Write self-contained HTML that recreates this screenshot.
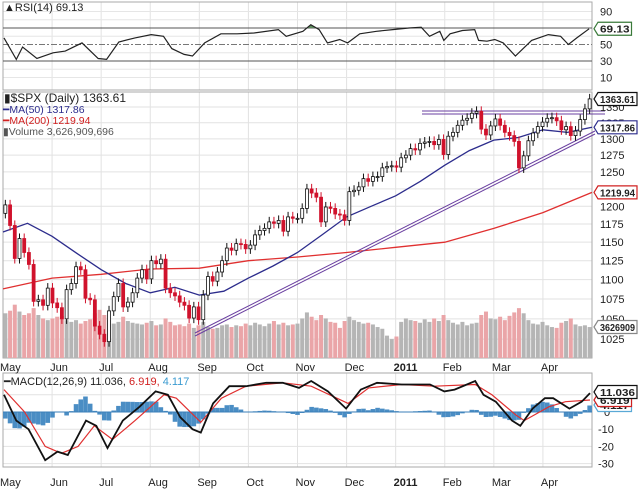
<!DOCTYPE html>
<html><head><meta charset="utf-8">
<style>
html,body{margin:0;padding:0;background:#fff;}
svg{display:block;font-family:"Liberation Sans",sans-serif;}
</style></head>
<body>
<svg id="c" width="640" height="490" viewBox="0 0 640 490">
<rect x="0" y="0" width="640" height="490" fill="#fff"/>
<g id="grid"></g>
<g id="rsi"></g>
<g id="main"></g>
<g id="macd"></g>
<g id="labels"></g>
</svg>
<script>
// ---- data ----
const monthLabels = ["May","Jun","Jul","Aug","Sep","Oct","Nov","Dec","2011","Feb","Mar","Apr"];
const closes = [
1202,1173,1128,1155,1136,1120,1072,1074,1067,1089,
1070,1064,1050,1087,1095,1117,1113,1076,1074,1041,1031,
1022,1060,1078,1095,1065,1071,1083,1102,1113,1101,
1125,1121,1127,1089,1083,1079,1071,1067,1051,1065,1049,
1080,1104,1098,1110,1125,1142,1139,1148,1147,1141,
1146,1160,1166,1169,1178,1176,1180,1165,1185,1183,1183,
1197,1225,1219,1213,1178,1199,1197,1189,1188,1180,
1221,1223,1228,1240,1236,1243,1243,1256,1258,1259,1257,
1271,1275,1285,1283,1293,1295,1296,1291,1299,1276,
1304,1310,1321,1329,1332,1340,1343,1315,1306,1320,
1331,1321,1310,1305,1296,1256,1274,1297,1309,1319,1326,
1332,1333,1328,1314,1319,1305,1312,1330,1347,1363];
const volumes = [
5.2,5.5,6.2,5.4,5.0,5.2,5.8,5.0,4.6,4.4,
4.6,4.8,4.9,4.4,4.2,4.4,4.0,4.3,4.5,5.2,5.6,
5.0,4.4,4.0,4.2,4.8,4.3,4.1,4.0,3.9,4.1,
4.3,3.8,3.9,4.6,4.2,3.8,3.9,3.7,4.0,3.5,3.8,
4.2,3.6,3.4,3.5,3.8,3.9,3.6,3.8,3.7,4.0,
3.8,4.1,3.9,3.7,4.0,4.3,3.9,4.1,3.8,3.9,4.0,
4.6,5.3,4.8,4.4,5.0,4.6,4.2,4.1,3.5,4.3,
4.8,4.4,4.2,4.0,4.1,3.9,3.6,3.4,2.6,2.2,2.5,
4.2,4.6,4.4,4.3,4.1,4.5,4.2,4.6,4.3,5.0,
4.4,4.1,3.9,4.2,3.8,4.0,4.1,5.0,5.4,4.6,
4.5,4.8,4.4,4.9,5.3,5.8,5.2,4.4,4.0,3.9,4.2,
3.8,3.6,3.5,4.1,4.3,4.6,3.9,3.7,3.8,3.6];
const ma50Months = [0,0.5,1,1.5,2,2.5,3,3.5,4,4.5,5,5.5,6,6.5,7,7.5,8,8.5,9,9.5,10,10.5,11,11.5,12];
const ma50Values = [1164,1176,1158,1135,1113,1095,1083,1090,1080,1085,1102,1118,1136,1160,1185,1200,1215,1236,1260,1282,1298,1302,1314,1310,1318];
const ma200Months = [0,1,2,3,4,5,6,7,8,9,10,11,12];
const ma200Values = [1088,1102,1107,1114,1115,1125,1130,1136,1143,1150,1169,1191,1220];
const rsiMonths = [0.02,0.27,0.40,0.69,1.02,1.27,1.61,1.94,2.11,2.36,2.69,3.02,3.27,3.44,3.69,3.86,4.11,4.44,4.77,5.11,5.61,5.77,6.11,6.27,6.44,6.61,6.86,7.02,7.27,7.61,7.94,8.27,8.52,8.69,8.90,8.98,9.11,9.36,9.61,9.69,9.86,10.02,10.19,10.44,10.77,11.11,11.36,11.52,11.69,11.94];
const rsiValues = [58,32,47,33,40,42,52,33,32,53,58,62,60,45,38,36,52,63,63,64,68,60,66,74,68,52,56,52,63,66,68,70,71,60,66,55,63,67,68,55,54,56,52,36,55,62,60,50,58,69];
const macdMonths = [0.02,0.27,0.52,0.86,1.11,1.32,1.69,1.90,2.13,2.44,2.78,3.11,3.36,3.61,3.86,4.03,4.28,4.61,4.95,5.36,5.70,6.03,6.28,6.62,6.99,7.29,7.62,8.12,8.70,8.99,9.20,9.62,9.79,10.04,10.37,10.54,10.79,11.04,11.21,11.54,11.79,11.96];
const macdValues = [10,-5,-10,-28,-23,-25,-5,-8,-21,-5,3,12,10,-3,-10,-12,5,15,15,17,17,14,18,12,2,13,17,16,16,12,13,18,10,6,-5,-8,2,8,8,2,6,11];
const signalMonths = [0.02,0.44,0.86,1.19,1.53,1.86,2.23,2.69,3.28,3.53,4.03,4.45,4.95,5.70,6.28,7.03,7.45,8.12,8.79,9.62,9.96,10.46,10.62,11.12,11.46,11.96];
const signalValues = [13,0,-20,-24,-20,-8,-16,-5,10,8,-6,8,15,17,15,5,14,16,15,16,10,-2,-5,3,6,7];
const priceTicks = [1350,1325,1300,1275,1250,1225,1200,1175,1150,1125,1100,1075,1050,1025];
const rsiTicks = [90,50,30,10];
const macdTicks = [0,-10,-20,-30];

// ---- scales ----
const X0=3, X1=592;
const xm = m => X0 + m*(X1-X0)/12;
const xi = i => xm((i+0.5)*12/closes.length);
const yP = p => 107 - 843*Math.log(p/1350);
const yR = v => 44.5 - 0.825*(v-50);
const yM = v => 412 - 1.72*v;
const yV = v => 358 - v*8.6;
const NS="http://www.w3.org/2000/svg";
function mk(tag, attrs, parent){const e=document.createElementNS(NS,tag);for(const k in attrs)e.setAttribute(k,attrs[k]);parent.appendChild(e);return e;}
function interp(ms,vs,m){if(m<=ms[0])return vs[0];for(let i=1;i<ms.length;i++){if(m<=ms[i]){const t=(m-ms[i-1])/(ms[i]-ms[i-1]);return vs[i-1]+t*(vs[i]-vs[i-1]);}}return vs[vs.length-1];}
function pathOf(ms,vs,fx,fy){return ms.map((m,i)=>(i?'L':'M')+fx(m).toFixed(1)+','+fy(vs[i]).toFixed(1)).join(' ');}

const G=document.getElementById('grid'), R=document.getElementById('rsi'), M=document.getElementById('main'), D=document.getElementById('macd'), L=document.getElementById('labels');

const panels=[[2,90],[92,358],[373,467]];
panels.forEach(([t,b])=>{
  for(let k=1;k<12;k++){const x=xm(k);const g=mk('line',{x1:x,x2:x,y1:t,y2:b,stroke:'#e2e2e2','stroke-width':1},G);
  
  }
});
[90,80,60,40,20,10].forEach(v=>{mk('line',{x1:X0,x2:X1,y1:yR(v),y2:yR(v),stroke:'#e6e6e6'},G);});
priceTicks.forEach(p=>{mk('line',{x1:X0,x2:X1,y1:yP(p),y2:yP(p),stroke:'#e2e2e2'},G);});
[10,0,-10,-20,-30].forEach(v=>{mk('line',{x1:X0,x2:X1,y1:yM(v),y2:yM(v),stroke:'#e2e2e2'},G);});
panels.forEach(([t,b])=>{mk('rect',{x:X0,y:t,width:X1-X0,height:b-t,fill:'none',stroke:'#aaa','stroke-width':1},G);});

// ---- RSI ----
mk('line',{x1:X0,x2:X1,y1:yR(70),y2:yR(70),stroke:'#555'},R);
mk('line',{x1:X0,x2:X1,y1:yR(30),y2:yR(30),stroke:'#555'},R);
mk('line',{x1:X0,x2:X1,y1:yR(50),y2:yR(50),stroke:'#777','stroke-dasharray':'6,2,2,2'},R);
const cp=mk('clipPath',{id:'above70'},R);mk('rect',{x:0,y:0,width:640,height:yR(70)},cp);
const rp=pathOf(rsiMonths,rsiValues,xm,yR);
const fillP=mk('path',{d:rp+' L'+xm(rsiMonths[rsiMonths.length-1])+','+yR(70)+' L'+xm(rsiMonths[0])+','+yR(70)+' Z',fill:'#5e8c5e','clip-path':'url(#above70)'},R);


const rl=mk('path',{d:rp,fill:'none',stroke:'#222','stroke-width':1.2},R);



// ---- Volume ----
closes.forEach((c,i)=>{
  const up = i===0 ? true : c>=closes[i-1];
  const b=mk('rect',{x:xi(i)-2,y:yV(volumes[i]),width:4,height:358-yV(volumes[i]),fill:up?'#b5b5b5':'#eaa5a8'},M);
  
  
});
const m200=mk('path',{d:pathOf(ma200Months,ma200Values,xm,yP),fill:'none',stroke:'#e03030','stroke-width':1.3},M);


const m50=mk('path',{d:pathOf(ma50Months,ma50Values,xm,yP),fill:'none',stroke:'#2c2c8c','stroke-width':1.3},M);


[0,3].forEach(o=>{mk('line',{x1:195,y1:333+o,x2:595,y2:131+o,stroke:'#6a3fa0','stroke-width':1},M);});
mk('line',{x1:422,y1:111,x2:605,y2:111,stroke:'#6a3fa0'},M);
mk('line',{x1:422,y1:114,x2:605,y2:114,stroke:'#6a3fa0'},M);
closes.forEach((c,i)=>{
  const o = i===0 ? 1190 : closes[i-1];
  const up = c>=o;
  const hi=Math.max(o,c)*1.006, lo=Math.min(o,c)*0.994;
  const x=xi(i);
  const col = up ? '#111' : '#d0122c';
  mk('line',{x1:x,x2:x,y1:yP(hi),y2:yP(lo),stroke:col,'stroke-width':1},M);
  const top=yP(Math.max(o,c)), h=Math.max(1,yP(Math.min(o,c))-top);
  const b=mk('rect',{x:x-1.5,y:top,width:3,height:h,fill:up?'#fff':col,stroke:col,'stroke-width':0.8},M);
  
  
});

// ---- MACD ----
for(let i=0;i<closes.length;i++){
  const m=(i+0.5)*12/closes.length;
  const h=interp(macdMonths,macdValues,m)-interp(signalMonths,signalValues,m);
  const y0=yM(0), y1=yM(h);
  const b=mk('rect',{x:xi(i)-2.3,y:Math.min(y0,y1),width:4.6,height:Math.abs(y1-y0),fill:'#4a8dc4'},D);
  
  
}
mk('line',{x1:X0,x2:X1,y1:yM(0),y2:yM(0),stroke:'#3b7fb8'},D);
const sg=mk('path',{d:pathOf(signalMonths,signalValues,xm,yM),fill:'none',stroke:'#e03030','stroke-width':1.2},D);


const ml=mk('path',{d:pathOf(macdMonths,macdValues,xm,yM),fill:'none',stroke:'#111','stroke-width':1.8},D);



// ---- axis labels ----
function txt(s,x,y,attrs){const t=mk('text',Object.assign({x:x,y:y,'font-size':11,fill:'#222'},attrs||{}),L);t.textContent=s;return t;}
rsiTicks.forEach(v=>{const t=txt(String(v),600,yR(v)+4);});
priceTicks.forEach(p=>{const t=txt(String(p),600,yP(p)+4);});
macdTicks.forEach(v=>{const t=txt(String(v),v<0?598:604,yM(v)+4);});
monthLabels.forEach((s,k)=>{
  const x = k===0 ? 0 : xm(k)-2;
  [367,482].forEach(y=>{const t=txt(s,x,y+4,{'font-size':11,'font-weight':s==='2011'?'bold':'normal'});});
});
function tag(s,y,col,fg){
  const nat=s.length*5.9;
  const tw=Math.min(nat,35);
  const w=tw+4;
  const g=mk('g',{},L);
  mk('path',{d:`M594,${y} L598,${y-6.5} L${598+w},${y-6.5} L${598+w},${y+6.5} L598,${y+6.5} Z`,fill:'#fff',stroke:col,'stroke-width':1.2},g);
  const t=mk('text',{x:600,y:y+4,'font-size':10.5,fill:fg||'#222','font-weight':'bold',textLength:tw,lengthAdjust:'spacingAndGlyphs'},g);t.textContent=s;
  return g;
}
let tg;
tg=tag('69.13',yR(69.13),'#3a7a3a');
tg=tag('3626909',327,'#888');
tg=tag('1219.94',yP(1219.94),'#d02020');
tg=tag('1317.86',yP(1317.86),'#2c2c8c');
tg=tag('1363.61',99,'#111');
tg=tag('4.117',405,'#5aa9d6');
tg=tag('6.919',400,'#d02020');
tg=tag('11.036',392,'#111');

let t;
t=txt('▲RSI(14) 69.13',4,11,{'font-size':11});
t=txt('▮$SPX (Daily) 1363.61',4,102,{'font-size':12});
t=txt('━MA(50) 1317.86',3,113,{'font-size':10.5,fill:'#2c2c8c'});
t=txt('━MA(200) 1219.94',3,124,{'font-size':10.5,fill:'#d02020'});
t=txt('▮Volume 3,626,909,696',3,135,{'font-size':10.5,fill:'#555'});
const mg=mk('text',{x:4,y:385,'font-size':11,fill:'#222'},L);


mg.innerHTML='<tspan>━MACD(12,26,9) 11.036, </tspan><tspan fill="#d02020">6.919, </tspan><tspan fill="#3a9ad0">4.117</tspan>';
</script>
</body></html>
